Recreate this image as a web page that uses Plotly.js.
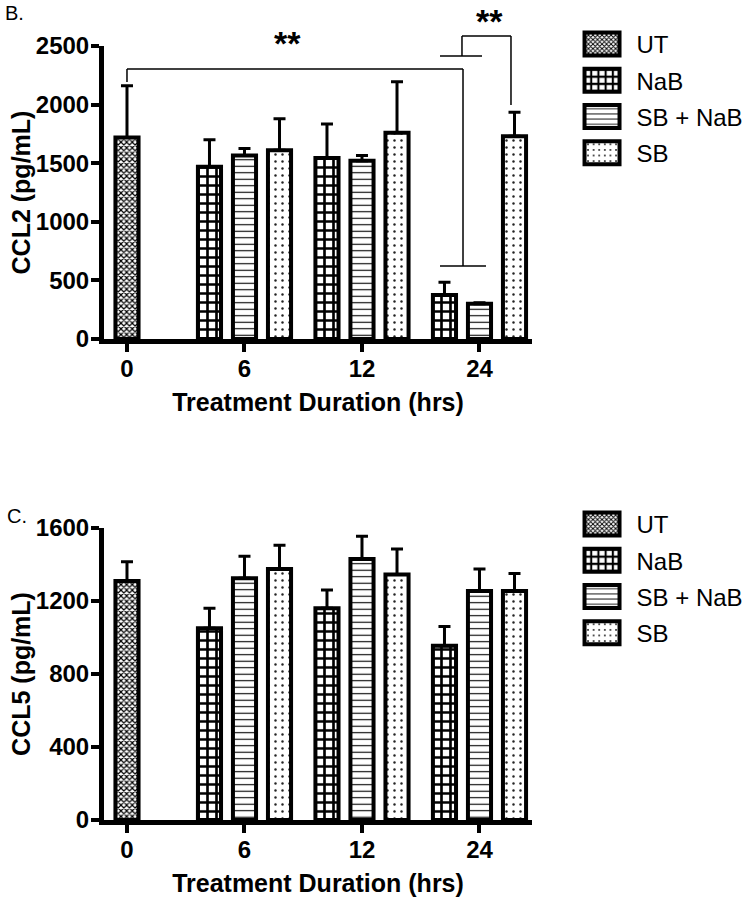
<!DOCTYPE html>
<html><head><meta charset="utf-8">
<script src="https://cdn.plot.ly/plotly-3.0.1.min.js"></script>
<style>html,body{margin:0;padding:0;background:#fff}#chart{width:752px;height:900px}</style>
</head><body><div id="chart"></div>
<script>
// ---- data ----
const categories = ['0', '6', '12', '24'];
const hoursUT = ['0'];
const hoursTreated = ['6', '12', '24'];
const seriesNames = ['UT', 'NaB', 'SB + NaB', 'SB'];

// CCL2 (pg/mL)
const ccl2UT = [1720];
const ccl2UTErr = [440];
const ccl2NaB = [1470, 1545, 375];
const ccl2NaBErr = [230, 290, 110];
const ccl2SBNaB = [1565, 1520, 300];
const ccl2SBNaBErr = [60, 45, 10];
const ccl2SB = [1610, 1760, 1730];
const ccl2SBErr = [270, 435, 205];

// CCL5 (pg/mL)
const ccl5UT = [1310];
const ccl5UTErr = [105];
const ccl5NaB = [1050, 1160, 955];
const ccl5NaBErr = [110, 100, 105];
const ccl5SBNaB = [1325, 1430, 1255];
const ccl5SBNaBErr = [120, 125, 120];
const ccl5SB = [1375, 1345, 1255];
const ccl5SBErr = [130, 140, 95];

// ---- styles ----
const FONT = 'Liberation Sans, Arial, sans-serif';
const patterns = {
  'UT': {shape: 'x', size: 4, solidity: 0.5, fgcolor: '#000', bgcolor: '#fff'},
  'NaB': {shape: '+', size: 9, solidity: 0.5, fgcolor: '#000', bgcolor: '#fff'},
  'SB + NaB': {shape: '-', size: 6.5, solidity: 0.17, fgcolor: '#000', bgcolor: '#fff'},
  'SB': {shape: '.', size: 7, solidity: 0.1, fgcolor: '#222', bgcolor: '#fff'}
};
const slot = {'UT': 'b', 'NaB': 'a', 'SB + NaB': 'b', 'SB': 'c'};
const rank = {'UT': 1, 'NaB': 2, 'SB + NaB': 3, 'SB': 4};

function bar(name, x, y, err, xa, ya, leg) {
  return {
    type: 'bar', name: name, x: x, y: y,
    xaxis: xa, yaxis: ya, legend: leg, legendrank: rank[name],
    legendgroup: name + leg, offsetgroup: slot[name],
    marker: {color: '#fff', line: {color: '#000', width: 4}, pattern: patterns[name]},
    error_y: {type: 'data', symmetric: false, array: err, arrayminus: err.map(() => 0),
              color: '#000', thickness: 3, width: 6},
    hoverinfo: 'skip'
  };
}

// trace order sets the slot order inside each group (NaB | UT, SB + NaB | SB)
const data = [
  bar(seriesNames[1], hoursTreated, ccl2NaB, ccl2NaBErr, 'x', 'y', 'legend'),
  bar(seriesNames[0], hoursUT, ccl2UT, ccl2UTErr, 'x', 'y', 'legend'),
  bar(seriesNames[2], hoursTreated, ccl2SBNaB, ccl2SBNaBErr, 'x', 'y', 'legend'),
  bar(seriesNames[3], hoursTreated, ccl2SB, ccl2SBErr, 'x', 'y', 'legend'),
  bar(seriesNames[1], hoursTreated, ccl5NaB, ccl5NaBErr, 'x2', 'y2', 'legend2'),
  bar(seriesNames[0], hoursUT, ccl5UT, ccl5UTErr, 'x2', 'y2', 'legend2'),
  bar(seriesNames[2], hoursTreated, ccl5SBNaB, ccl5SBNaBErr, 'x2', 'y2', 'legend2'),
  bar(seriesNames[3], hoursTreated, ccl5SB, ccl5SBErr, 'x2', 'y2', 'legend2')
];

const tickFont = {family: FONT, size: 24, color: '#000', weight: 'bold'};
const titleFont = {family: FONT, size: 25, color: '#000', weight: 'bold'};
function xAxis(anchor) {
  return {
    anchor: anchor, domain: [0, 1], type: 'category', categoryorder: 'array', categoryarray: categories,
    range: [-0.1957, 3.4469], showline: true, linecolor: '#000', linewidth: 5,
    ticks: 'outside', ticklen: 8, tickwidth: 4, tickcolor: '#000', showgrid: false, zeroline: false,
    tickfont: tickFont, ticklabelstandoff: -4, fixedrange: true,
    title: {text: 'Treatment Duration (hrs)', font: titleFont, standoff: 14}
  };
}
function yAxis(anchor, domain, max, dtick, title) {
  return {
    anchor: anchor, domain: domain, range: [0, max], dtick: dtick, tick0: 0,
    showline: true, linecolor: '#000', linewidth: 5,
    ticks: 'outside', ticklen: 8, tickwidth: 4, tickcolor: '#000', showgrid: false, zeroline: false,
    tickfont: tickFont, ticklabelstandoff: -3, fixedrange: true,
    title: {text: title, font: titleFont, standoff: 0}
  };
}

const ln = {color: '#000', width: 1.5};
function seg(x0, y0, x1, y1) {
  return {type: 'line', xref: 'x domain', yref: 'y domain', x0: x0, y0: y0, x1: x1, y1: y1, line: ln};
}
const shapes = [
  seg(0.0537, 0.8771, 0.0537, 0.9215),
  seg(0.0537, 0.9215, 0.8388, 0.9215),
  seg(0.8388, 0.9215, 0.8388, 0.2491),
  seg(0.785, 0.2491, 0.8925, 0.2491),
  seg(0.785, 0.9659, 0.8832, 0.9659),
  seg(0.8364, 0.9659, 0.8364, 1.0341),
  seg(0.8364, 1.0341, 0.9509, 1.0341),
  seg(0.9509, 1.0341, 0.9509, 0.7986)
];

const starFont = {family: FONT, size: 34, color: '#000', weight: 'bold'};
const annotations = [
  {text: '**', xref: 'x domain', yref: 'y domain', x: 0.4287, y: 1.0102, xanchor: 'center', yanchor: 'middle',
   showarrow: false, font: starFont},
  {text: '**', xref: 'x domain', yref: 'y domain', x: 0.9, y: 1.157, xanchor: 'center', yanchor: 'top',
   showarrow: false, font: starFont},
  {text: 'B.', xref: 'paper', yref: 'paper', x: -0.236, y: 1.0426, xanchor: 'left', yanchor: 'middle',
   showarrow: false, font: {family: FONT, size: 20, color: '#000'}},
  {text: 'C.', xref: 'paper', yref: 'paper', x: -0.2313, y: 0.3928, xanchor: 'left', yanchor: 'middle',
   showarrow: false, font: {family: FONT, size: 20, color: '#000'}}
];

const legFont = {family: FONT, size: 24, color: '#000'};
function legend(y) {
  return {x: 1.083, xanchor: 'left', y: y, yanchor: 'top', font: legFont, itemwidth: 59,
          bgcolor: 'rgba(0,0,0,0)', borderwidth: 0, tracegroupgap: 2, traceorder: 'grouped',
          itemclick: false, itemdoubleclick: false};
}

const layout = {
  width: 752, height: 900,
  margin: {l: 104, r: 220, t: 46, b: 80, autoexpand: false},
  paper_bgcolor: '#fff', plot_bgcolor: '#fff',
  barmode: 'group', bargap: 0.106, bargroupgap: 0.34,
  font: {family: FONT, color: '#000'},
  xaxis: xAxis('y'),
  yaxis: yAxis('x', [0.6214, 1], 2500, 500, 'CCL2 (pg/mL)'),
  xaxis2: xAxis('y2'),
  yaxis2: yAxis('x2', [0, 0.3773], 1600, 400, 'CCL5 (pg/mL)'),
  legend: legend(1.031),
  legend2: legend(0.4109),
  shapes: shapes,
  annotations: annotations,
  showlegend: true
};

function fixLegend() {
  var gd = document.getElementById('chart');
  gd.querySelectorAll('.legendpoints path').forEach(function (p) {
    p.setAttribute('d', 'M17.5,11.5H-17.5V-11.5H17.5Z');
    p.style.strokeWidth = '4px';
  });
}

Plotly.newPlot('chart', data, layout, {displayModeBar: false, staticPlot: true}).then(function (gd) {
  fixLegend();
  gd.on('plotly_afterplot', fixLegend);
  setTimeout(fixLegend, 100);
  setTimeout(fixLegend, 500);
});
</script>
</body></html>
